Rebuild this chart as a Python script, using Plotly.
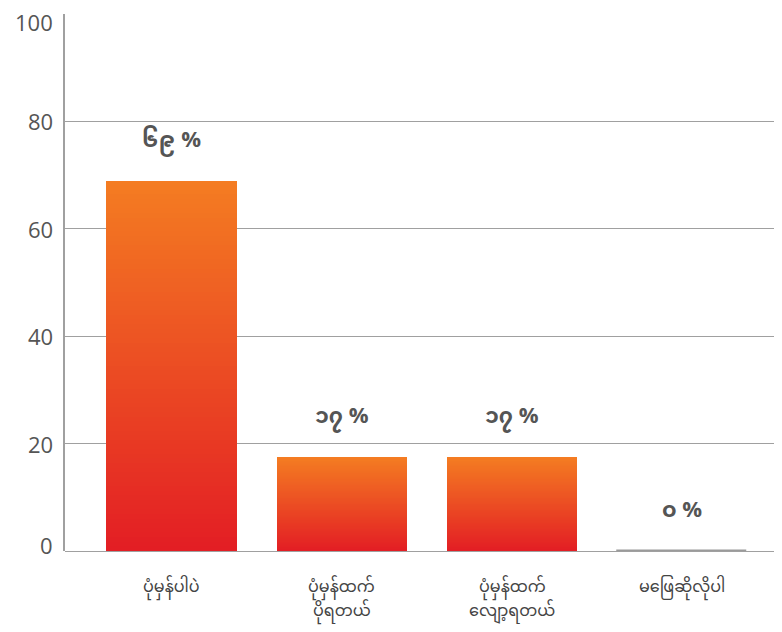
import plotly.graph_objects as go

categories = ["ပုံမှန်ပါပဲ", "ပုံမှန်ထက်<br>ပိုရတယ်", "ပုံမှန်ထက်<br>လျော့ရတယ်", "မဖြေဆိုလိုပါ"]
values = [69, 17.5, 17.5, 0]
value_labels = ["၆၉ %", "၁၇ %", "၁၇ %", "၀ %"]
y_ticks = [0, 20, 40, 60, 80, 100]

MY_FONT = "Noto Sans Myanmar, Padauk, Myanmar Text, Noto Sans, Open Sans, sans-serif"
NUM_FONT = "Open Sans, sans-serif"
top_rgb = (244, 124, 34)
bot_rgb = (227, 30, 36)
N = 80

x_idx = list(range(len(categories)))
fig = go.Figure()
for k in range(N):
    t = k / (N - 1)
    c = tuple(round(top_rgb[j] + (bot_rgb[j] - top_rgb[j]) * t) for j in range(3))
    fig.add_trace(go.Bar(
        x=x_idx, y=[v * (N - k) / N for v in values],
        marker=dict(color="rgb(%d,%d,%d)" % c, line=dict(width=0)),
        width=0.77, hoverinfo="skip", showlegend=False,
    ))
# outline for zero-valued bars
fig.add_trace(go.Bar(
    x=x_idx, y=values, width=0.77, showlegend=False, hoverinfo="skip",
    marker=dict(color="rgba(0,0,0,0)",
                line=dict(width=[1.5 if v == 0 else 0 for v in values], color="#9a9a9a")),
    cliponaxis=False,
))

# value labels above bars
for i, (v, lab) in enumerate(zip(values, value_labels)):
    fig.add_annotation(x=i, y=v, text="<b>%s</b>" % lab, showarrow=False,
                       yanchor="middle", yshift=39,
                       font=dict(family=MY_FONT, size=22, color="#555555"))

# category labels (each line separately for wider line spacing)
for i, cat in enumerate(categories):
    for li, line in enumerate(cat.split("<br>")):
        fig.add_annotation(x=i, xref="x", y=0, yref="paper", text=line, showarrow=False,
                           yanchor="middle", yshift=-37 - 24 * li,
                           font=dict(family=MY_FONT, size=16, color="#444444"))

# y tick labels (end labels kept inside the plot height, as in the reference)
for j, tv in enumerate(y_ticks):
    shift = 6 if j == 0 else (-8 if j == len(y_ticks) - 1 else 0)
    fig.add_annotation(x=0, xref="paper", y=tv, yref="y", text=str(tv), showarrow=False,
                       xanchor="right", yanchor="middle", xshift=-10, yshift=shift,
                       font=dict(family=NUM_FONT, size=22, color="#555555"))

fig.update_layout(
    width=774, height=624, barmode="overlay", bargap=0,
    plot_bgcolor="white", paper_bgcolor="white",
    margin=dict(l=57, r=0, t=6, b=81, autoexpand=False),
    showlegend=False,
)
fig.update_xaxes(
    range=[-0.629, 3.588], tickvals=x_idx, showticklabels=False,
    showgrid=False, zeroline=False, showline=False, ticks="", automargin=False,
)
fig.update_yaxes(
    range=[0, 100.02], tickvals=y_ticks, showticklabels=False,
    showgrid=True, gridcolor="#a0a0a0", gridwidth=1,
    zeroline=True, zerolinecolor="#a0a0a0", zerolinewidth=1,
    showline=True, linecolor="#a0a0a0", linewidth=1.5,
    ticks="", automargin=False,
)

fig.write_html("out.html")
